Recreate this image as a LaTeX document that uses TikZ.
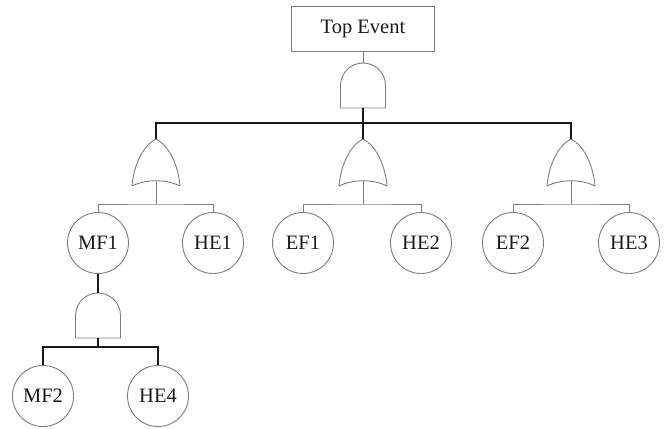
\documentclass[tikz,border=0pt]{standalone}
\usepackage{fontspec}
\setmainfont{Liberation Serif}
\definecolor{gcol}{RGB}{125,125,125}
\definecolor{tcol}{RGB}{25,25,25}
\begin{document}
\begin{tikzpicture}[x=1pt,y=-1pt,
  ev/.style={circle,draw=gcol,line width=0.9pt,minimum size=61pt,inner sep=0pt,fill=white,
    font=\fontsize{20.5}{23}\selectfont,text=tcol},
  topbox/.style={rectangle,draw=gcol,line width=0.9pt,minimum width=143pt,minimum height=45pt,
    inner sep=0pt,font=\fontsize{20.5}{23}\selectfont,text=tcol},
  thinline/.style={draw=gcol,line width=0.9pt},
  thickline/.style={draw=black!90,line width=1.8pt},
  gate/.style={draw=gcol,line width=0.9pt,fill=white,line join=round},
  andgate/.pic={
    \draw[gate] (-22.5,45) -- (-22.5,22.5) arc[start angle=180,end angle=360,radius=22.5] -- (22.5,45) -- cycle;
    \coordinate (-in) at (0,0);
    \coordinate (-out) at (0,45);
  },
  orgate/.pic={
    \draw[gate] (0,0) .. controls (12,6) and (22,24) .. (24,47)
      .. controls (10,40) and (-10,40) .. (-24,47)
      .. controls (-22,24) and (-12,6) .. (0,0) -- cycle;
    \coordinate (-in) at (0,0);
    \coordinate (-out) at (0,42);
  }]
\useasboundingbox (0,0) rectangle (668,428);

% top event
\node[topbox] (top) at (363,29) {Top Event};
\pic (g0) at (363,63) {andgate};
\coordinate (b0) at (363,123);

% OR gates
\pic (g1) at (156,139) {orgate};
\pic (g2) at (363,139) {orgate};
\pic (g3) at (571,139) {orgate};

\coordinate (j1) at (156,204);
\coordinate (j2) at (363,204);
\coordinate (j3) at (571,204);

% basic events
\node[ev] (mf1) at (98,243) {MF1};
\node[ev] (he1) at (213,243) {HE1};
\node[ev] (ef1) at (303,243) {EF1};
\node[ev] (he2) at (421,243) {HE2};
\node[ev] (ef2) at (513,243) {EF2};
\node[ev] (he3) at (629,243) {HE3};

% lower AND gate
\pic (g4) at (98,293) {andgate};
\coordinate (j4) at (98,347);
\node[ev] (mf2) at (43,396) {MF2};
\node[ev] (he4) at (158,396) {HE4};

% connectors
\draw[thinline] (top.south) -- (g0-in);
\draw[thickline] (g0-out) -- (b0);
\draw[thickline] (g1-in) |- (b0) -| (g3-in);
\draw[thickline] (b0) -- (g2-in);

\draw[thinline] (g1-out) -- (j1);
\draw[thinline] (mf1.north) |- (j1) -| (he1.north);
\draw[thinline] (g2-out) -- (j2);
\draw[thinline] (ef1.north) |- (j2) -| (he2.north);
\draw[thinline] (g3-out) -- (j3);
\draw[thinline] (ef2.north) |- (j3) -| (he3.north);

\draw[thickline] (mf1.south) -- (g4-in);
\draw[thickline] (g4-out) -- (j4);
\draw[thickline] (mf2.north) |- (j4) -| (he4.north);
\end{tikzpicture}
\end{document}
